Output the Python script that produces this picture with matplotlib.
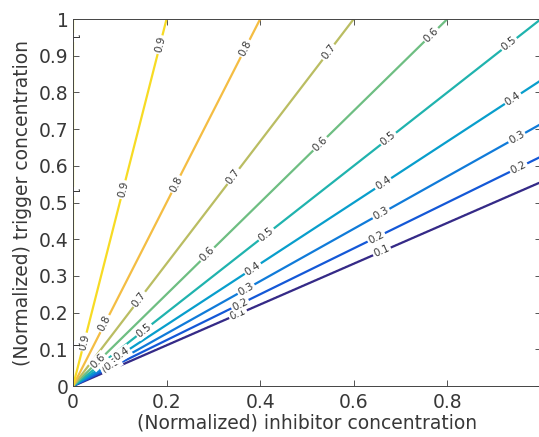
import numpy as np
import matplotlib
matplotlib.use("Agg")
import matplotlib.pyplot as plt
from matplotlib.colors import LinearSegmentedColormap

# ---- data ----
levels = [0.1, 0.2, 0.3, 0.4, 0.5, 0.6, 0.7, 0.8, 0.9, 1.0]
# slope y/x of each contour line through the origin (level 1.0 lies on x = 0)
slopes = [0.556, 0.625, 0.714, 0.833, 1.0, 1.25, 1.667, 2.5, 5.0, np.inf]
# heights (y) at which inline labels sit on each level
label_y = {
    0.1: [0.367, 0.196, 0.045],
    0.2: [0.595, 0.405, 0.223, 0.05],
    0.3: [0.677, 0.47, 0.264, 0.06],
    0.4: [0.783, 0.552, 0.32, 0.087],
    0.5: [0.932, 0.674, 0.413, 0.152],
    0.6: [0.957, 0.66, 0.359, 0.068],
    0.7: [0.91, 0.571, 0.236],
    0.8: [0.92, 0.55, 0.17],
    0.9: [0.93, 0.535, 0.12],
    1.0: [0.95, 0.53, 0.11],
}
xticks = [0, 0.2, 0.4, 0.6, 0.8, 1.0]
xticklabels = ["0", "0.2", "0.4", "0.6", "0.8", ""]
yticks = [0, 0.1, 0.2, 0.3, 0.4, 0.5, 0.6, 0.7, 0.8, 0.9, 1.0]
yticklabels = ["0", "0.1", "0.2", "0.3", "0.4", "0.5", "0.6", "0.7", "0.8", "0.9", "1"]
xlabel = "(Normalized) inhibitor concentration"
ylabel = "(Normalized) trigger concentration"

# ---- parula colormap ----
parula_pts = [
    (0.2081, 0.1663, 0.5292), (0.2081, 0.2386, 0.6771), (0.0591, 0.3598, 0.8683),
    (0.0165, 0.4266, 0.8786), (0.0779, 0.5040, 0.8384), (0.0488, 0.5772, 0.8228),
    (0.0231, 0.6418, 0.7913), (0.0590, 0.6838, 0.7254), (0.1801, 0.7177, 0.6424),
    (0.3482, 0.7424, 0.5473), (0.5300, 0.7491, 0.4661), (0.6834, 0.7435, 0.4044),
    (0.8185, 0.7327, 0.3498), (0.9450, 0.7261, 0.2886), (0.9955, 0.7861, 0.1967),
    (0.9697, 0.8481, 0.1475), (0.9598, 0.9218, 0.0948), (0.9763, 0.9831, 0.0538),
]
parula = LinearSegmentedColormap.from_list("parula", parula_pts)
lev_min, lev_max = min(levels), max(levels)
colors = [parula((l - lev_min) / (lev_max - lev_min)) for l in levels]

# ---- field built from the read slopes (contours are rays through origin) ----
angles = [np.arctan(s) if np.isfinite(s) else np.pi / 2 for s in slopes]
xp = [0.0] + angles + [np.pi]
fp = [0.0] + levels + [2.0]
xs = np.concatenate([[-0.02], np.linspace(0.0, 1.0, 977)])
ys = np.linspace(0.0, 1.0, 1013)
X, Y = np.meshgrid(xs, ys)
Z = np.interp(np.arctan2(Y, X), xp, fp)

plt.rcParams["font.family"] = ["DejaVu Sans"]
TXT = "#383838"
fig = plt.figure(figsize=(5.39, 4.37), dpi=100)
ax = fig.add_axes([73 / 539, 51 / 437, 468 / 539, 367 / 437])

cs = ax.contour(X, Y, Z, levels=levels, colors=colors, linewidths=1.6)

manual = []
for lev, s in zip(levels, slopes):
    for yy in label_y[lev]:
        xx = 0.0 if not np.isfinite(s) else yy / s
        manual.append((xx, yy))
labels = cs.clabel(levels, inline=False, fontsize=7.5, fmt="%g", manual=manual)
for t in labels:
    t.set_color(TXT)
    t.set_bbox(dict(facecolor="white", edgecolor="none", pad=1.0))
    t.set_zorder(3)

ax.set_xlim(0, 1)
ax.set_ylim(0, 1)
ax.set_xticks(xticks)
ax.set_xticklabels(xticklabels)
ax.set_yticks(yticks)
ax.set_yticklabels(yticklabels)
ax.tick_params(direction="in", length=4, width=0.6, colors=TXT,
               labelsize=13.5, top=True, right=True)
ax.tick_params(axis="x", pad=5)
ax.tick_params(axis="y", pad=3)
for sp in ax.spines.values():
    sp.set_color("#444444")
    sp.set_linewidth(0.7)
    sp.set_zorder(5)
ax.set_xlabel(xlabel, fontsize=13.5, color=TXT, labelpad=1)
ax.set_ylabel(ylabel, fontsize=13.5, color=TXT, labelpad=5)

fig.savefig("out.png", dpi=100)
